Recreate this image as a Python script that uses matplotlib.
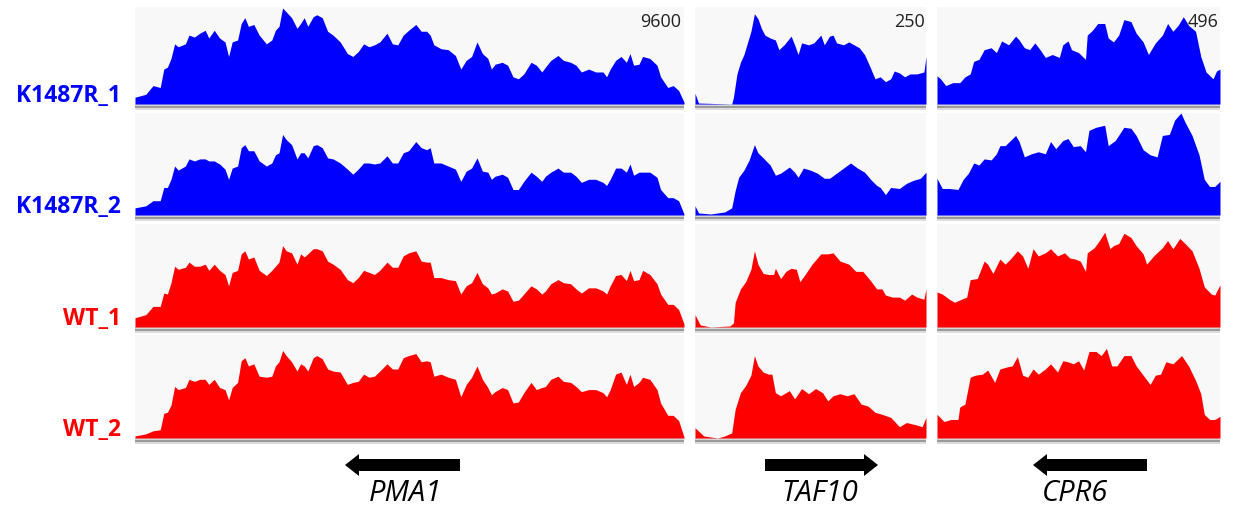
import matplotlib
matplotlib.use("Agg")
import matplotlib.pyplot as plt
from matplotlib.patches import FancyArrow

# ---- data: coverage as percent of the track data range ----
samples = ["K1487R_1", "K1487R_2", "WT_1", "WT_2"]
sample_colors = ["#0000FF", "#0000FF", "#FF0000", "#FF0000"]
genes = ["PMA1", "TAF10", "CPR6"]
data_ranges = ["9600", "250", "496"]
gene_strand = ["-", "+", "-"]

# PMA1: shared positions (relative bp) for all four tracks
pma1_pos = [0, 30, 50, 70, 80, 90, 100, 110, 120, 140, 150, 165, 180, 195, 205, 220, 235, 250, 260, 270,
            285, 295, 305, 315, 330, 345, 365, 380, 390, 400, 410, 420, 435, 450, 460, 470, 480, 495, 505, 520,
            535, 550, 570, 590, 605, 620, 635, 650, 665, 680, 700, 715, 730, 745, 760, 780, 795, 810, 820, 830,
            850, 870, 890, 905, 920, 935, 950, 965, 980, 990, 1000, 1020, 1035, 1050, 1065, 1080, 1100, 1115,
            1130, 1140, 1155, 1175, 1190, 1210, 1225, 1240, 1260, 1280, 1300, 1310, 1320, 1335, 1350, 1365,
            1375, 1385, 1400, 1410, 1430, 1450, 1460, 1480, 1495, 1510, 1525]
pma1_k1 = [7, 10, 19, 17, 36, 38, 47, 62, 59, 62, 71, 69, 73, 76, 68, 76, 68, 64, 49, 64,
           66, 83, 89, 80, 82, 71, 62, 66, 76, 80, 99, 95, 89, 78, 83, 89, 80, 90, 92, 89,
           75, 71, 64, 52, 49, 54, 62, 59, 61, 64, 73, 62, 61, 71, 76, 82, 75, 75, 71, 61,
           57, 56, 50, 36, 45, 49, 64, 52, 47, 36, 41, 43, 40, 28, 26, 31, 43, 40, 33, 38,
           45, 50, 45, 43, 40, 33, 36, 33, 33, 28, 36, 45, 49, 43, 52, 40, 41, 49, 47, 40,
           28, 17, 19, 14, 2]
pma1_k2 = [7, 9, 14, 14, 27, 27, 35, 48, 44, 48, 55, 53, 55, 55, 53, 53, 50, 45, 35, 46,
           48, 66, 69, 63, 63, 53, 48, 51, 59, 61, 79, 74, 69, 55, 61, 61, 56, 68, 69, 66,
           56, 55, 51, 45, 40, 45, 51, 51, 50, 51, 58, 51, 51, 61, 63, 72, 66, 64, 66, 51,
           51, 48, 45, 33, 43, 46, 56, 43, 42, 35, 38, 40, 37, 25, 25, 33, 42, 38, 33, 38,
           42, 46, 42, 42, 38, 32, 35, 35, 32, 29, 35, 46, 46, 42, 50, 39, 42, 42, 42, 37,
           25, 17, 17, 14, 1]
pma1_wt1 = [9, 12, 20, 20, 33, 32, 43, 59, 56, 58, 63, 59, 59, 61, 55, 61, 55, 51, 40, 53,
            55, 71, 74, 66, 68, 55, 50, 55, 59, 63, 79, 74, 72, 61, 71, 68, 71, 76, 76, 74,
            64, 61, 56, 46, 43, 48, 55, 53, 51, 55, 63, 58, 58, 69, 72, 74, 64, 63, 63, 48,
            48, 46, 45, 32, 40, 43, 53, 42, 38, 32, 33, 37, 35, 25, 26, 32, 40, 37, 32, 35,
            42, 46, 43, 42, 37, 33, 38, 38, 35, 32, 40, 50, 51, 45, 55, 45, 46, 55, 51, 42,
            32, 22, 22, 17, 3]
pma1_wt2 = [2, 4, 7, 8, 24, 25, 32, 50, 47, 49, 57, 55, 57, 57, 52, 57, 49, 47, 37, 49,
            54, 75, 78, 70, 72, 60, 59, 60, 70, 74, 85, 80, 74, 65, 72, 70, 65, 78, 80, 77,
            67, 65, 64, 52, 54, 55, 62, 59, 60, 65, 72, 67, 67, 78, 80, 82, 74, 75, 74, 60,
            62, 59, 57, 40, 52, 59, 70, 57, 49, 42, 45, 49, 47, 34, 35, 44, 54, 47, 49, 50,
            57, 60, 55, 54, 50, 45, 47, 47, 44, 40, 47, 62, 64, 52, 62, 50, 54, 59, 57, 47,
            34, 22, 22, 17, 1]

# TAF10: positions and heights per track
taf10_pos_k1 = [0, 10, 105, 110, 120, 130, 140, 150, 160, 170, 180, 190, 200, 215, 230, 240, 255, 275,
                285, 295, 305, 325, 340, 360, 370, 385, 395, 405, 425, 440, 455, 470, 485, 500, 515, 530,
                545, 560, 570, 585, 600, 615, 635, 655, 661]
taf10_k1 = [11, 1, 0, 7, 31, 43, 51, 63, 75, 93, 88, 78, 71, 68, 66, 56, 61, 70,
            61, 51, 63, 61, 63, 71, 61, 70, 71, 63, 61, 64, 61, 58, 51, 39, 26, 28,
            23, 26, 34, 32, 28, 31, 31, 33, 49]
taf10_pos_k2 = [0, 10, 45, 85, 105, 115, 125, 140, 155, 170, 180, 195, 215, 230, 245, 270, 285, 295,
                310, 330, 350, 370, 385, 405, 425, 445, 465, 485, 505, 520, 530, 545, 560, 585, 605,
                625, 645, 661]
taf10_k2 = [9, 2, 1, 3, 7, 24, 37, 44, 54, 69, 61, 56, 49, 39, 41, 47, 42, 37,
            46, 44, 41, 36, 36, 41, 46, 51, 46, 42, 34, 29, 27, 20, 27, 26, 31,
            34, 36, 42]
taf10_pos_wt1 = [0, 15, 45, 100, 110, 115, 130, 145, 160, 170, 180, 195, 210, 225, 230, 245, 260, 275,
                 290, 300, 315, 335, 360, 380, 395, 415, 440, 460, 480, 500, 520, 535, 545, 565, 585,
                 600, 620, 635, 655, 661]
taf10_wt1 = [12, 2, 0, 1, 4, 24, 37, 44, 56, 74, 61, 52, 51, 51, 57, 47, 54, 57,
             56, 44, 51, 61, 71, 71, 72, 64, 61, 54, 54, 46, 37, 37, 31, 29, 29,
             26, 32, 29, 27, 37]
taf10_pos_wt2 = [0, 25, 65, 85, 105, 115, 130, 145, 160, 170, 180, 195, 210, 220, 230, 245, 270, 285,
                 305, 325, 345, 365, 380, 395, 415, 435, 455, 475, 495, 515, 535, 560, 585, 605, 630,
                 650, 661]
taf10_wt2 = [10, 2, 0, 2, 5, 28, 44, 51, 61, 80, 70, 64, 62, 62, 44, 41, 46, 38,
             48, 43, 48, 44, 36, 41, 43, 41, 43, 33, 31, 25, 23, 20, 11, 15, 13,
             11, 20]

# CPR6: positions and heights per track
cpr6_pos_k1 = [0, 10, 25, 45, 65, 80, 95, 105, 120, 135, 155, 170, 185, 205, 225, 235, 250, 265, 280,
               295, 310, 330, 350, 360, 375, 385, 405, 425, 430, 445, 460, 480, 490, 505, 520, 535,
               555, 570, 590, 605, 625, 645, 660, 675, 690, 705, 720, 740, 755, 770, 790, 800, 810]
cpr6_k1 = [29, 26, 19, 22, 22, 28, 31, 44, 46, 56, 58, 53, 65, 61, 70, 66, 58, 56, 63,
           56, 48, 51, 48, 61, 65, 56, 53, 46, 71, 76, 83, 83, 68, 64, 71, 87,
           85, 73, 64, 51, 63, 71, 83, 75, 81, 90, 81, 75, 49, 33, 26, 34, 36]
cpr6_pos_k2 = [0, 15, 35, 60, 75, 90, 105, 120, 135, 155, 170, 180, 195, 210, 225, 235, 250, 270, 290,
               310, 325, 340, 360, 375, 390, 410, 425, 435, 455, 480, 490, 510, 535, 555, 570, 590,
               610, 630, 645, 665, 680, 698, 710, 730, 750, 765, 780, 795, 810]
cpr6_k2 = [36, 26, 26, 25, 35, 41, 51, 49, 55, 54, 60, 68, 68, 73, 78, 72, 57, 60, 62,
           60, 72, 65, 73, 75, 67, 68, 62, 83, 86, 88, 68, 73, 86, 85, 78, 64,
           59, 57, 78, 79, 93, 100, 91, 78, 59, 35, 28, 28, 33]
cpr6_pos_wt1 = [0, 15, 35, 50, 70, 85, 95, 115, 135, 145, 160, 180, 195, 210, 230, 245, 260, 275, 290,
                310, 325, 345, 365, 380, 395, 410, 425, 430, 450, 465, 480, 495, 505, 520, 535, 555,
                570, 590, 600, 620, 645, 660, 675, 695, 710, 730, 750, 765, 785, 795, 810]
cpr6_wt1 = [34, 32, 27, 24, 27, 29, 46, 47, 64, 61, 52, 66, 61, 66, 74, 69, 57, 76, 69,
            72, 76, 69, 72, 67, 66, 64, 54, 72, 77, 84, 92, 76, 79, 81, 91, 87,
            79, 71, 61, 69, 77, 84, 76, 86, 81, 74, 57, 39, 32, 31, 41]
cpr6_pos_wt2 = [0, 20, 40, 60, 65, 80, 95, 110, 130, 145, 165, 180, 200, 215, 230, 245, 260, 275, 290,
                310, 325, 345, 360, 375, 390, 405, 420, 435, 455, 470, 485, 500, 515, 535, 555, 570,
                590, 610, 625, 640, 655, 675, 700, 720, 740, 755, 765, 780, 795, 810]
cpr6_wt2 = [23, 16, 18, 18, 30, 33, 59, 61, 62, 66, 54, 67, 69, 70, 79, 61, 59, 67, 62,
            67, 72, 64, 75, 74, 72, 75, 66, 84, 84, 80, 87, 70, 70, 80, 80, 70,
            61, 52, 61, 62, 74, 72, 80, 70, 56, 43, 23, 18, 18, 21]

pma1_tracks = [(pma1_pos, pma1_k1), (pma1_pos, pma1_k2), (pma1_pos, pma1_wt1), (pma1_pos, pma1_wt2)]
taf10_tracks = [(taf10_pos_k1, taf10_k1), (taf10_pos_k2, taf10_k2),
                (taf10_pos_wt1, taf10_wt1), (taf10_pos_wt2, taf10_wt2)]
cpr6_tracks = [(cpr6_pos_k1, cpr6_k1), (cpr6_pos_k2, cpr6_k2),
               (cpr6_pos_wt1, cpr6_wt1), (cpr6_pos_wt2, cpr6_wt2)]
all_tracks = [pma1_tracks, taf10_tracks, cpr6_tracks]

# ---- layout in pixels ----
W, H = 1237, 510
col_x = [(135, 684), (695, 926), (937, 1220)]
row_top = [8, 114, 225, 336]
row_base = [105, 216, 328, 439]
bar_px = 6

fig = plt.figure(figsize=(W / 100, H / 100), dpi=100)

for c, tracks in enumerate(all_tracks):
    x0, x1 = col_x[c]
    for r, (pos, vals) in enumerate(tracks):
        top, base = row_top[r], row_base[r]
        h = base - top
        ax = fig.add_axes([x0 / W, 1 - (base + bar_px) / H, (x1 - x0) / W, (h + bar_px) / H])
        unit = 100.0 / h
        ax.set_ylim(-bar_px * unit, 100)
        ax.set_xlim(pos[0], pos[-1])
        ax.axhspan(0, 100, color="#f8f8f8", zorder=0, lw=0)
        ax.fill_between(pos, 0, vals, color=sample_colors[r], lw=0, zorder=2)
        ax.axhspan(-1.5 * unit, -0.2 * unit, color="#d4d4d4", lw=0, zorder=1)
        ax.axhspan(-4.0 * unit, -1.5 * unit, color="#9a9a9a", lw=0, zorder=1)
        ax.axhspan(-5.5 * unit, -4.0 * unit, color="#dcdcdc", lw=0, zorder=1)
        ax.axis("off")
        if r == 0:
            ax.text(0.995, 0.86, data_ranges[c], transform=ax.transAxes, ha="right", va="center",
                    fontsize=13, color="#222222", family="Open Sans", zorder=3)

# overlay for labels and gene arrows (pixel coordinates)
ov = fig.add_axes([0, 0, 1, 1])
ov.set_xlim(0, W)
ov.set_ylim(H, 0)
ov.axis("off")

for r, name in enumerate(samples):
    ov.text(121, row_base[r] - 9, name, ha="right", va="center", fontsize=16.5,
            fontweight="bold", color=sample_colors[r], family="Open Sans")

arrow_spans = [(345, 460), (765, 878), (1033, 1147)]
label_x = [405, 820, 1075]
for g, name in enumerate(genes):
    a, b = arrow_spans[g]
    if gene_strand[g] == "-":
        start, dx = b, -(b - a)
    else:
        start, dx = a, (b - a)
    ov.add_patch(FancyArrow(start, 466, dx, 0, width=12, head_width=22, head_length=14,
                            length_includes_head=True, color="black", lw=0))
    ov.text(label_x[g], 494, name, ha="center", va="center", fontsize=21,
            style="italic", color="black", family="Open Sans")

fig.savefig("out.png", dpi=100)
